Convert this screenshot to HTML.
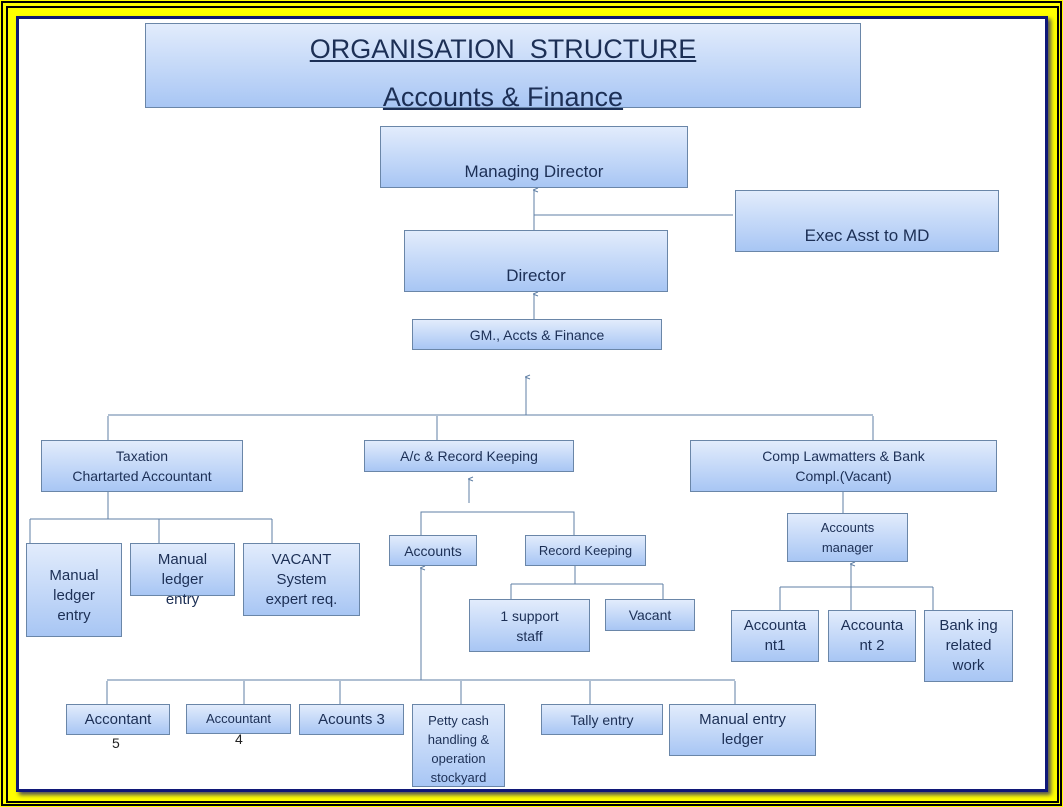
<!DOCTYPE html>
<html><head><style>
body{margin:0;width:1063px;height:807px;background:#ffff00;position:relative;overflow:hidden;font-family:"Liberation Sans",sans-serif;}
.f1{position:absolute;left:1px;top:1px;width:1057px;height:801px;border:2px solid #000;}
.f2{position:absolute;left:6px;top:6px;width:1049px;height:793px;border:2px solid #000;background:#ffff00;}
.page{position:absolute;left:16px;top:16px;width:1026px;height:770px;border:3px solid #101878;background:#fff;box-shadow:3px 3px 4px #555;}
.b{position:absolute;box-sizing:border-box;border:1px solid #6a86a8;background:linear-gradient(#e2ecfc,#a8c6f4);color:#1c2f55;display:flex;align-items:center;justify-content:center;text-align:center;font-size:14px;line-height:20px;}
svg{position:absolute;left:0;top:0;}
</style></head><body>
<div class="f1"></div><div class="f2"></div><div class="page"></div>
<svg width="1063" height="807" fill="none" stroke="#5f7fa5" stroke-width="1">
<defs><marker id="a" markerWidth="6" markerHeight="6" refX="3" refY="1" orient="auto-start-reverse"><path d="M1,5 L3,0 L5,5" stroke="#5f7fa5"/></marker></defs>
<path d="M534 292 V190" marker-end="url(#a)"/>
<path d="M534 215 H733"/>
<path d="M534 319 V294" marker-end="url(#a)"/>
<path d="M526 415 V377" marker-end="url(#a)"/>
<path d="M108 415 H873"/>
<path d="M108 440 V416" /><path d="M437 440 V416"/><path d="M873 440 V416"/>
<path d="M108 492 V519 M30 519 H272"/>
<path d="M30 543 V519 M159 543 V519 M272 543 V519"/>
<path d="M469 503 V479" marker-end="url(#a)"/>
<path d="M421 535 V512 H574 V535"/>
<path d="M575 566 V584 M511 584 H663 M511 599 V584 M663 599 V584"/>
<path d="M421 680 V568" marker-end="url(#a)"/>
<path d="M107 680 H735"/>
<path d="M107 704 V681 M244 704 V681 M340 704 V681 M461 704 V681 M590 704 V681 M735 704 V681"/>
<path d="M843 492 V513"/>
<path d="M851 610 V564" marker-end="url(#a)"/>
<path d="M780 587 H933 M780 610 V587 M933 610 V587"/>
</svg>
<div class="b" style="left:145px;top:23px;width:716px;height:85px;flex-direction:column;font-size:27px;line-height:48px;padding-top:14px;"><u>ORGANISATION&nbsp; STRUCTURE</u><u>Accounts &amp; Finance</u></div>
<div class="b" style="left:380px;top:126px;width:308px;height:62px;font-size:17px;padding-top:30px;">Managing Director</div>
<div class="b" style="left:735px;top:190px;width:264px;height:62px;font-size:17px;padding-top:30px;">Exec Asst to MD</div>
<div class="b" style="left:404px;top:230px;width:264px;height:62px;font-size:17px;padding-top:30px;">Director</div>
<div class="b" style="left:412px;top:319px;width:250px;height:31px;">GM., Accts &amp; Finance</div>
<div class="b" style="left:41px;top:440px;width:202px;height:52px;">Taxation<br>Chartarted Accountant</div>
<div class="b" style="left:364px;top:440px;width:210px;height:32px;">A/c &amp; Record Keeping</div>
<div class="b" style="left:690px;top:440px;width:307px;height:52px;">Comp Lawmatters &amp; Bank<br>Compl.(Vacant)</div>
<div class="b" style="left:26px;top:543px;width:96px;height:94px;font-size:15px;padding-top:12px;">Manual<br>ledger<br>entry</div>
<div class="b" style="left:130px;top:543px;width:105px;height:53px;font-size:15px;align-items:flex-start;padding-top:6px;">Manual<br>ledger<br>entry</div>
<div class="b" style="left:243px;top:543px;width:117px;height:73px;font-size:15px;">VACANT<br>System<br>expert req.</div>
<div class="b" style="left:389px;top:535px;width:88px;height:31px;">Accounts</div>
<div class="b" style="left:525px;top:535px;width:121px;height:31px;font-size:13px;">Record Keeping</div>
<div class="b" style="left:469px;top:599px;width:121px;height:53px;">1 support<br>staff</div>
<div class="b" style="left:605px;top:599px;width:90px;height:32px;">Vacant</div>
<div class="b" style="left:787px;top:513px;width:121px;height:49px;font-size:13px;">Accounts<br>manager</div>
<div class="b" style="left:731px;top:610px;width:88px;height:52px;font-size:15px;">Accounta<br>nt1</div>
<div class="b" style="left:828px;top:610px;width:88px;height:52px;font-size:15px;">Accounta<br>nt 2</div>
<div class="b" style="left:924px;top:610px;width:89px;height:72px;font-size:15px;">Bank ing<br>related<br>work</div>
<div class="b" style="left:66px;top:704px;width:104px;height:31px;font-size:15px;">Accontant</div>
<div style="position:absolute;left:112px;top:735px;font-size:14px;color:#222;">5</div>
<div class="b" style="left:186px;top:704px;width:105px;height:30px;font-size:13px;">Accountant</div>
<div style="position:absolute;left:235px;top:731px;font-size:14px;color:#222;">4</div>
<div class="b" style="left:299px;top:704px;width:105px;height:31px;font-size:15px;">Acounts 3</div>
<div class="b" style="left:412px;top:704px;width:93px;height:83px;font-size:13px;line-height:19px;align-items:flex-start;padding-top:6px;">Petty cash<br>handling &amp;<br>operation<br>stockyard</div>
<div class="b" style="left:541px;top:704px;width:122px;height:31px;">Tally entry</div>
<div class="b" style="left:669px;top:704px;width:147px;height:52px;font-size:15px;">Manual entry<br>ledger</div>
</body></html>
